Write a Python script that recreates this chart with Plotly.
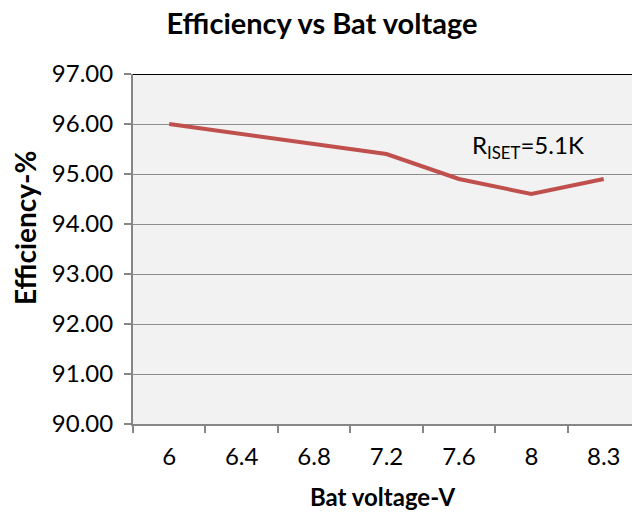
import plotly.graph_objects as go

categories = ["6", "6.4", "6.8", "7.2", "7.6", "8", "8.3"]
efficiency = [96.0, 95.8, 95.6, 95.4, 94.9, 94.6, 94.9]
y_ticks = [90, 91, 92, 93, 94, 95, 96, 97]

FONT = "Lato"
W, H = 632, 512
ML, MT, MB = 133, 74, 88

fig = go.Figure()
fig.add_trace(go.Scatter(
    x=categories, y=efficiency, mode="lines",
    line=dict(color="#C0504D", width=4),
    showlegend=False, hoverinfo="skip",
))

fig.update_layout(
    width=W, height=H,
    margin=dict(l=ML, r=0, t=MT, b=MB),
    paper_bgcolor="white", plot_bgcolor="#F2F2F2",
    font=dict(family=FONT, color="black"),
    title=dict(text="<b>Efficiency vs Bat voltage</b>", x=322 / W, xanchor="center",
               xref="container",
               y=1 - 24 / H, yanchor="middle", font=dict(size=29, family=FONT)),
    xaxis=dict(
        type="category", range=[-0.5, 6.39], automargin=False,
        tickson="boundaries", ticks="outside", ticklen=7, tickcolor="#868686", tickwidth=2,
        showline=True, linecolor="#868686", linewidth=2,
        showgrid=False, tickfont=dict(size=24, family=FONT), ticklabelstandoff=10,
        title=dict(text="<b>Bat voltage-V</b>", font=dict(size=24, family=FONT), standoff=20),
    ),
    yaxis=dict(
        range=[90, 97], tickvals=y_ticks, tickformat=".2f", automargin=False,
        ticks="outside", ticklen=7, tickcolor="#868686", tickwidth=2,
        showline=True, linecolor="#868686", linewidth=2,
        showgrid=True, gridcolor="#8C8C8C", gridwidth=1,
        tickfont=dict(size=24, family=FONT), ticklabelstandoff=6,
        zeroline=False,
    ),
)

# y-axis title placed as rotated text
fig.add_annotation(text="<b>Efficiency-%</b>", xref="paper", yref="paper",
                   x=(25 - ML) / (W - ML), y=(H - MB - 228) / (H - MT - MB),
                   xanchor="center", yanchor="middle", textangle=-90,
                   showarrow=False, font=dict(size=28, family=FONT, color="black"))

fig.add_shape(type="line", xref="paper", yref="y", x0=0, x1=1, y0=97, y1=97,
              line=dict(color="black", width=2))

fig.add_annotation(text="R<sub>ISET</sub>=5.1K", xref="paper", yref="y",
                   x=(528 - ML) / (W - ML), y=95.55, xanchor="center", yanchor="middle",
                   showarrow=False, font=dict(size=24, family=FONT, color="black"))

fig.write_html("out.html", config={"displayModeBar": False},
               post_script="document.body.style.margin='0';")
